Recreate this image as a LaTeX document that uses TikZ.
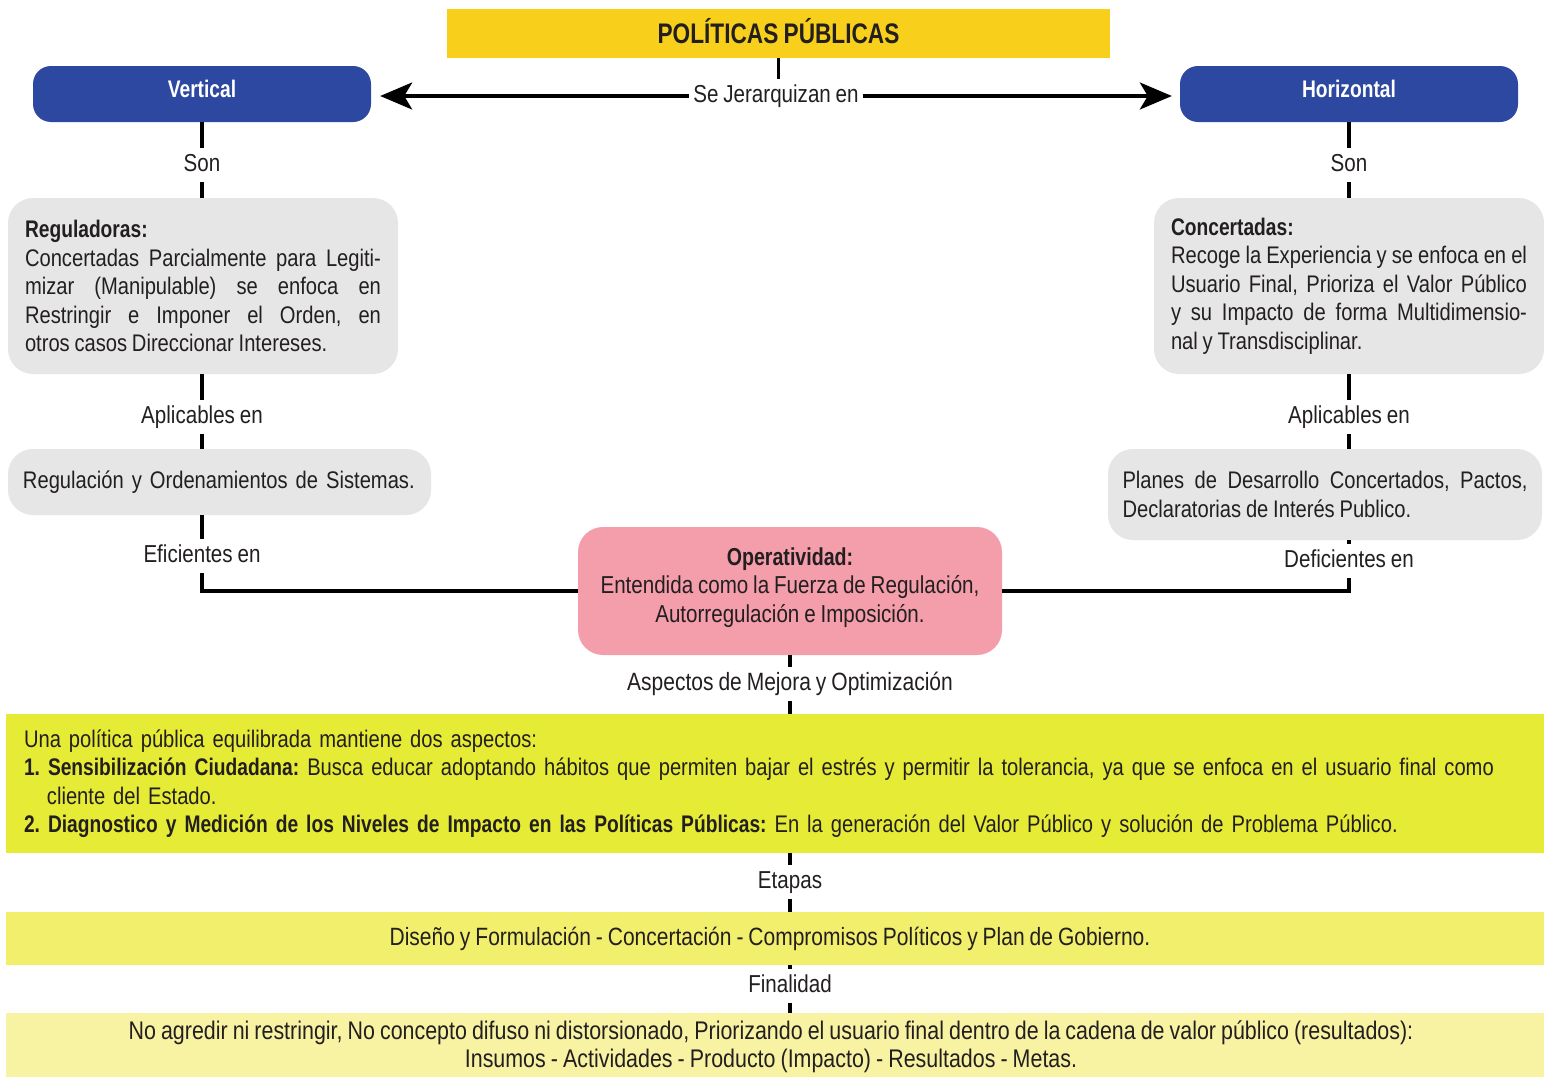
\documentclass[tikz,border=0pt]{standalone}
\usepackage{fontspec}
\setmainfont{Liberation Sans}[FakeStretch=0.84, WordSpace=0.85, BoldFeatures={FakeStretch=0.80}]
\usetikzlibrary{arrows.meta}
\frenchspacing
\definecolor{ink}{HTML}{231F20}
\definecolor{ttlc}{HTML}{F8D01C}
\definecolor{bluec}{HTML}{2C48A0}
\definecolor{grayc}{HTML}{E6E6E6}
\definecolor{pinkc}{HTML}{F49DAB}
\definecolor{greenc}{HTML}{E6EB35}
\definecolor{yelc}{HTML}{F2EF6D}
\definecolor{palec}{HTML}{F8F3A3}
\begin{document}
\begin{tikzpicture}[x=1pt,y=-1pt,
  base/.style={font=\fontsize{24.5}{28.5}\selectfont\frenchspacing, text=ink},
  smallfont/.style={font=\fontsize{24}{28.5}\selectfont\frenchspacing},
  bigfont/.style={font=\fontsize{25}{28.5}\selectfont\frenchspacing},
  graybox/.style={base, smallfont, fill=grayc, rounded corners=25pt, inner xsep=15pt, inner ysep=6pt},
  bluebox/.style={fill=bluec, text=white, rounded corners=18pt, font=\fontsize{24}{28}\selectfont\bfseries},
  lbl/.style={base, text height=17pt, text depth=5pt, inner ysep=6pt, inner xsep=5pt},
  conn/.style={line width=3.5pt, draw=black},
  bigarrow/.style={conn, -{Stealth[length=32pt,width=27pt,inset=8pt]}},
  band/.style={base, minimum width=1540pt, inner xsep=17pt, inner ysep=4pt}
]
\useasboundingbox (0,0) rectangle (1544,1076);
\fill[white] (0,0) rectangle (1544,1076);

% title
\node[fill=ttlc, minimum width=663pt, minimum height=49pt, text=ink,
  font=\fontsize{28.3}{30}\selectfont\bfseries] (title) at (778.5,33.5) {\raisebox{5pt}{POLÍTICAS PÚBLICAS}};
\node[bluebox, minimum width=338pt, minimum height=56pt] (vert) at (202,94) {\raisebox{10pt}{Vertical}};
\node[bluebox, minimum width=338pt, minimum height=56pt] (horz) at (1349,94) {\raisebox{10pt}{Horizontal}};
\node[lbl, inner xsep=4pt] (jer) at (776,96) {Se Jerarquizan en};
\draw[conn] (title.south) -- (title.south |- jer.north);
\draw[bigarrow, shorten >=9pt] (jer.west) -- (jer.west -| vert.east);
\draw[bigarrow, shorten >=8pt] (jer.east) -- (jer.east -| horz.west);

% left column
\node[lbl] (son1) at (202,165) {Son};
\node[graybox, text width=356pt, align=justify, minimum width=390pt, minimum height=176pt] (reg) at (203,286)
 {\textbf{Reguladoras:}\\
 Concertadas Parcialmente para Legiti-\linebreak
 mizar (Manipulable) se enfoca en\linebreak
 Restringir e Imponer el Orden, en\linebreak
 otros casos Direccionar Intereses.};
\node[lbl] (apl1) at (202,417) {Aplicables en};
\node[graybox, text width=393pt, align=left, minimum height=66pt] (regsis) at (219.5,482)
 {\mbox{Regulación y Ordenamientos de Sistemas.}};
\node[lbl] (efic) at (202,556) {Eficientes en};
\draw[conn] (vert.south -| son1) -- (son1.north);
\draw[conn] (son1.south) -- (son1.south |- reg.north);
\draw[conn] (apl1.north |- reg.south) -- (apl1.north);
\draw[conn] (apl1.south) -- (apl1.south |- regsis.north);
\draw[conn] (efic.north |- regsis.south) -- (efic.north);

% right column
\node[lbl] (son2) at (1349,165) {Son};
\node[graybox, text width=356pt, align=justify, minimum width=390pt, minimum height=176pt] (conc) at (1349,286)
 {\textbf{Concertadas:}\\
 Recoge la Experiencia y se enfoca en el\linebreak
 Usuario Final, Prioriza el Valor Público\linebreak
 y su Impacto de forma Multidimensio-\linebreak
 nal y Transdisciplinar.};
\node[lbl] (apl2) at (1349,417) {Aplicables en};
\node[graybox, text width=405pt, align=justify, minimum width=434pt, minimum height=91pt, inner xsep=11pt] (planes) at (1325,494.5)
 {Planes de Desarrollo Concertados, Pactos,\linebreak
 Declaratorias de Interés Publico.};
\node[lbl] (defic) at (1349,561) {Deficientes en};
\draw[conn] (horz.south -| son2) -- (son2.north);
\draw[conn] (son2.south) -- (son2.south |- conc.north);
\draw[conn] (apl2.north |- conc.south) -- (apl2.north);
\draw[conn] (apl2.south) -- (apl2.south |- planes.north);
\draw[conn] (defic.north |- planes.south) -- (defic.north);

% operatividad
\node[base, fill=pinkc, rounded corners=25pt, minimum width=424pt, minimum height=128pt, align=center] (oper) at (790,591)
 {\textbf{Operatividad:}\\Entendida como la Fuerza de Regulación,\\Autorregulación e Imposición.\rule[-12pt]{0pt}{12pt}};
\draw[conn] (efic.south) |- (oper.west);
\draw[conn] (defic.south) |- (oper.east);

\node[lbl, bigfont] (asp) at (790,684) {Aspectos de Mejora y Optimización};
\draw[conn] (oper.south -| asp) -- (asp.north);

% bands
\node[band, smallfont, fill=greenc, text width=1504pt, align=left, minimum height=139pt] (gb) at (776,783.5)
 {Una política pública equilibrada mantiene dos aspectos:\\
 \mbox{\textbf{1. Sensibilización Ciudadana:} Busca educar adoptando hábitos que permiten bajar el estrés y permitir la tolerancia, ya que se enfoca en el usuario final como}\\
 \hspace*{23pt}cliente del Estado.\\
 \mbox{\textbf{2. Diagnostico y Medición de los Niveles de Impacto en las Políticas Públicas:} En la generación del Valor Público y solución de Problema Público.}};
\draw[conn] (asp.south) -- (asp.south |- gb.north);

\node[lbl] (etl) at (790,882) {Etapas};
\node[band, bigfont, fill=yelc, minimum height=53pt] (et) at (776,938.5)
 {Diseño y Formulación - Concertación - Compromisos Políticos y Plan de Gobierno.\hspace*{12pt}};
\draw[conn] (gb.south -| etl) -- (etl.north);
\draw[conn] (etl.south) -- (etl.south |- et.north);

\node[lbl] (fin) at (790,986) {Finalidad};
\node[band, font=\fontsize{25.5}{28.5}\selectfont\frenchspacing, fill=palec, minimum height=67pt, align=center] (fb) at (776,1046.5)
 {No agredir ni restringir, No concepto difuso ni distorsionado, Priorizando el usuario final dentro de la cadena de valor público (resultados):\hspace*{10pt}\\
 Insumos - Actividades - Producto (Impacto) - Resultados - Metas.\hspace*{10pt}};
\draw[conn] (et.south -| fin) -- (fin.north);
\draw[conn] (fin.south) -- (fin.south |- fb.north);
\end{tikzpicture}
\end{document}
